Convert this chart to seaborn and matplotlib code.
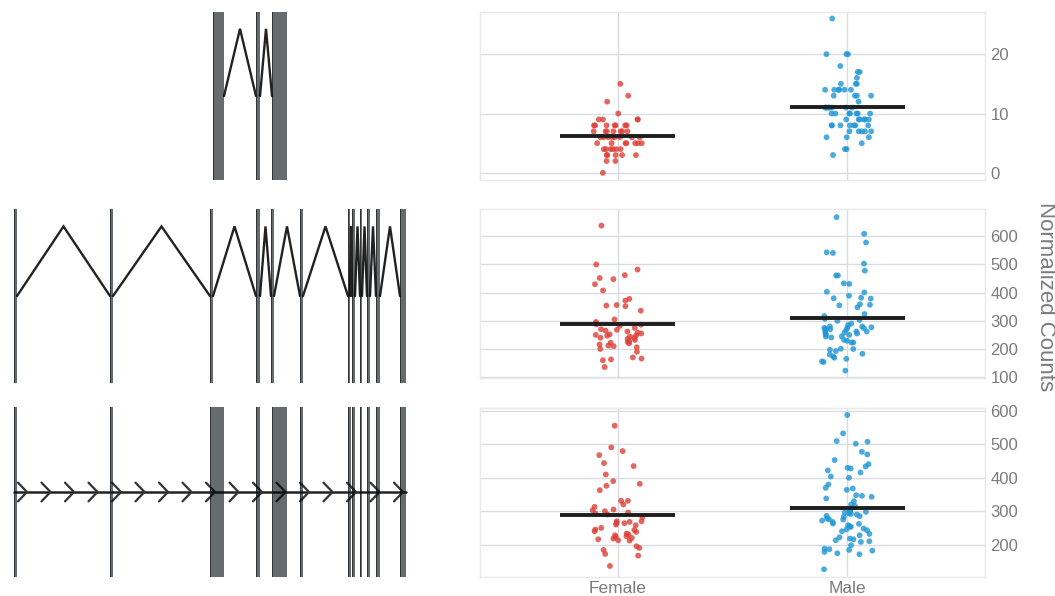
import numpy as np
import pandas as pd
import matplotlib
matplotlib.use("Agg")
import matplotlib.pyplot as plt
from matplotlib.patches import Rectangle
import seaborn as sns

# ---------------- data ----------------
categories = ["Female", "Male"]

female_1 = [15, 13, 12, 10, 9, 9, 9, 9, 8, 8, 8, 8, 8, 8, 8, 7, 7, 7, 7, 7, 7, 7,
            6, 6, 6, 6, 6, 6, 6, 6, 5, 5, 5, 5, 5, 5, 5, 4, 4, 4, 4, 4, 4,
            3, 3, 3, 3, 3, 2, 2, 0]
male_1 = [26, 20, 20, 20, 18, 17, 17, 16, 15, 15, 15, 14, 14, 14, 14, 14, 14,
          13, 13, 13, 13, 12, 11, 11, 11, 11, 11, 11, 11, 11, 10, 10, 10, 10, 10, 10, 10,
          9, 9, 9, 9, 9, 9, 8, 8, 8, 8, 8, 8, 8, 7, 7, 7, 7, 7, 6, 6, 6, 5, 4, 4, 3]

female_2 = [638, 500, 482, 462, 452, 448, 430, 408, 378, 372, 356, 354, 352, 336, 305,
            296, 290, 288, 286, 282, 275, 270, 265, 262, 258, 252, 250, 248, 247, 244,
            240, 236, 232, 228, 222, 220, 216, 212, 210, 206, 200, 190, 170, 166, 163,
            160, 136, 240, 255, 225, 268]
male_2 = [668, 609, 578, 543, 541, 503, 478, 461, 461, 433, 431, 403, 401, 389, 382,
          380, 379, 359, 355, 357, 348, 324, 317, 307, 303, 300, 285, 280, 277, 275,
          274, 271, 268, 265, 262, 258, 256, 251, 250, 244, 241, 232, 229, 223, 223,
          201, 200, 197, 193, 183, 180, 174, 169, 165, 156, 154, 123, 270, 262, 280,
          290, 255, 245, 275]

female_3 = [556, 491, 480, 468, 444, 435, 410, 390, 382, 376, 363, 331, 331, 320, 313,
            305, 303, 300, 296, 293, 290, 282, 270, 270, 268, 264, 260, 258, 250, 244,
            240, 238, 233, 228, 225, 223, 220, 216, 213, 195, 190, 184, 172, 167, 136,
            245, 230, 218, 212, 265]
male_3 = [588, 533, 510, 508, 502, 478, 470, 453, 441, 434, 430, 428, 422, 416, 404,
          400, 380, 370, 368, 364, 348, 346, 343, 338, 330, 320, 316, 308, 303, 298,
          296, 293, 290, 286, 283, 278, 276, 272, 268, 263, 258, 253, 248, 246, 243,
          240, 228, 218, 216, 213, 210, 208, 186, 184, 182, 178, 174, 171, 126,
          285, 292, 262, 255, 232, 222, 198, 188, 300, 275]

strip_data = [(female_1, male_1), (female_2, male_2), (female_3, male_3)]
y_ticks = [[0, 10, 20], [100, 200, 300, 400, 500, 600], [200, 300, 400, 500, 600]]
y_limits = [(-1.2, 27.1), (97, 697), (103, 609)]

# gene models (genomic position, arbitrary units)
exons_1 = [(213, 224), (256, 260), (272, 287)]
exons_2 = [(14, 17), (110, 113), (210, 213), (256, 260), (271, 274), (300, 303),
           (348, 350), (352, 355), (360, 362), (367, 370), (376, 380), (400, 406)]
exons_3 = [(14, 17), (110, 113), (210, 224), (256, 260), (272, 287), (300, 303),
           (348, 351), (352, 355), (360, 362), (367, 370), (376, 380), (400, 406)]
intron_styles = ["hat", "hat", "arrow"]
gene_models = [exons_1, exons_2, exons_3]

# ---------------- figure ----------------
sns.set_theme(style="white")
plt.rcParams["font.family"] = ["Liberation Sans", "DejaVu Sans"]

W, H = 1055, 596
fig = plt.figure(figsize=(W / 100, H / 100), dpi=100)


def px_axes(x0, x1, y_top, y_bot):
    return fig.add_axes([x0 / W, 1 - y_bot / H, (x1 - x0) / W, (y_bot - y_top) / H])


left_rows = [(12, 180), (209, 383), (407, 577)]
right_rows = [(12, 180), (209, 378), (408, 577)]

exon_color = "#00080d"
intron_color = "#222222"

for r, exons in enumerate(gene_models):
    ax = px_axes(10, 410, *left_rows[r])
    ax.set_xlim(10, 410)
    ax.set_ylim(0, 1)
    ax.axis("off")
    # introns
    if intron_styles[r] == "hat":
        for (s0, e0), (s1, e1) in zip(exons[:-1], exons[1:]):
            mid = (e0 + s1) / 2
            ax.plot([e0, mid, s1], [0.5, 0.9, 0.5], color=intron_color, lw=1.7,
                    solid_joinstyle="miter", zorder=1)
    else:
        g0, g1 = exons[0][0], exons[-1][1]
        ax.plot([g0, g1], [0.5, 0.5], color=intron_color, lw=1.8, zorder=1)
        for xc in np.arange(27, g1, 23.5):
            ax.plot([xc - 9, xc, xc - 9], [0.555, 0.5, 0.445], color="#333333",
                    lw=1.6, zorder=1)
    # exons
    for s, e in exons:
        ax.add_patch(Rectangle((s, 0), e - s, 1, facecolor=exon_color, alpha=0.6,
                               edgecolor="none", zorder=2))
        ax.add_patch(Rectangle((s, 0), min(1.2, e - s), 1, facecolor="#1a1e21",
                               alpha=0.7, edgecolor="none", zorder=3))

palette = {"Female": "#dc4037", "Male": "#1f96d4"}
np.random.seed(3)

for r, (fv, mv) in enumerate(strip_data):
    ax = px_axes(480, 985, *right_rows[r])
    df = pd.DataFrame({"sex": [categories[0]] * len(fv) + [categories[1]] * len(mv),
                       "value": list(fv) + list(mv)})
    sns.stripplot(data=df, x="sex", y="value", hue="sex", order=categories,
                  palette=palette, jitter=0.11, size=4.2, alpha=0.8, linewidth=0,
                  legend=False, ax=ax, zorder=3)
    means = df.groupby("sex")["value"].mean().reindex(categories)
    for i, m in enumerate(means):
        ax.plot([i - 0.25, i + 0.25], [m, m], color="#1e1e1e", lw=2.8,
                solid_capstyle="butt", zorder=4)
    ax.set_xlim(-0.6, 1.6)
    ax.set_ylim(*y_limits[r])
    ax.set_yticks(y_ticks[r])
    ax.yaxis.tick_right()
    ax.set_xlabel("")
    ax.set_ylabel("")
    ax.grid(True, color="#d9dde3", lw=1)
    ax.set_axisbelow(True)
    for sp in ax.spines.values():
        sp.set_color("#e9e9e9")
        sp.set_linewidth(1)
    ax.tick_params(axis="y", length=0, pad=4, labelsize=12, labelcolor="#7b7b7b")
    ax.tick_params(axis="x", length=0, pad=3, labelsize=12.5, labelcolor="#7b7b7b")
    if r < 2:
        ax.tick_params(axis="x", labelbottom=False)

fig.text(1045 / W, 1 - 297 / H, "Normalized Counts", rotation=270, ha="center",
         va="center", fontsize=16, color="#7b7b7b")

fig.savefig("out.png", dpi=100)
